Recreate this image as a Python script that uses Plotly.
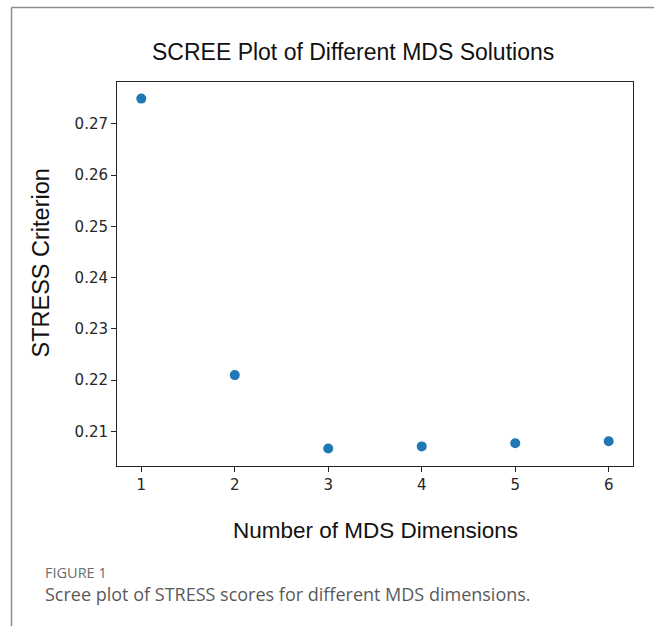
import plotly.graph_objects as go

dimensions = [1, 2, 3, 4, 5, 6]
stress = [0.2749, 0.2210, 0.2067, 0.2071, 0.2077, 0.2081]
y_ticks = [0.21, 0.22, 0.23, 0.24, 0.25, 0.26, 0.27]

W, H = 654, 626
L, R, T, B = 117, 633, 82, 466  # plot area in pixels

def px(x):
    return (x - L) / (R - L)

def py(y):
    return (B - y) / (B - T)

fig = go.Figure()
fig.add_trace(go.Scatter(
    x=dimensions, y=stress, mode="markers",
    marker=dict(color="#1f77b4", size=10, line=dict(width=0)),
    showlegend=False,
))

axis_common = dict(
    showline=True, linecolor="#262626", linewidth=1, mirror=True,
    ticks="outside", ticklen=5, tickwidth=1, tickcolor="#262626",
    showgrid=False, zeroline=False,
    tickfont=dict(family="DejaVu Sans", size=15, color="#262626"),
)

fig.update_layout(
    width=W, height=H,
    margin=dict(l=L, r=W - R, t=T, b=H - B),
    paper_bgcolor="white", plot_bgcolor="white",
    xaxis=dict(range=[0.74, 6.26], tickvals=dimensions, **axis_common),
    yaxis=dict(range=[0.20328, 0.27814], tickvals=y_ticks, tickformat=".2f", **axis_common),
)

# frame lines of the figure panel
fig.add_shape(type="line", xref="paper", yref="paper",
              x0=px(11.5), x1=px(654), y0=py(7.5), y1=py(7.5),
              line=dict(color="#8c8c8c", width=1.5))
fig.add_shape(type="line", xref="paper", yref="paper",
              x0=px(11.5), x1=px(11.5), y0=py(7.5), y1=py(626),
              line=dict(color="#8c8c8c", width=1.5))

ann = []
ann.append(dict(text="SCREE Plot of Different MDS Solutions", x=px(353), y=py(52),
                xanchor="center", yanchor="middle",
                font=dict(family="Liberation Sans", size=23, color="#111111")))
ann.append(dict(text="Number of MDS Dimensions", x=px(375), y=py(530),
                xanchor="center", yanchor="middle",
                font=dict(family="Liberation Sans", size=22.5, color="#111111")))
ann.append(dict(text="STRESS Criterion", x=px(40), y=py(263.5), textangle=-90,
                xanchor="center", yanchor="middle",
                font=dict(family="Liberation Sans", size=23.5, color="#111111")))
ann.append(dict(text="FIGURE 1", x=px(43), y=py(572.5),
                xanchor="left", yanchor="middle",
                font=dict(family="Open Sans", size=14.5, color="#6e6e6e")))
ann.append(dict(text="Scree plot of STRESS scores for different MDS dimensions.", x=px(43), y=py(593.5),
                xanchor="left", yanchor="middle",
                font=dict(family="Open Sans", size=18, color="#5a5a5a")))
for a in ann:
    a.update(xref="paper", yref="paper", showarrow=False)
fig.update_layout(annotations=ann)

fig.write_html("out.html")
